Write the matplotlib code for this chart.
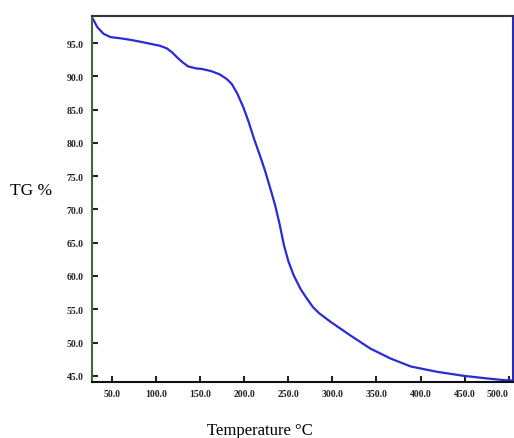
import matplotlib.pyplot as plt

# TGA curve
temp = [27, 29, 33, 40, 48, 60, 70, 82, 93, 104, 112, 118, 124, 130, 136, 145, 152,
        162, 172, 180, 186, 192, 199, 205, 211, 218, 224, 230, 235, 240, 245, 250,
        256, 264, 271, 278, 285, 298, 320, 343, 366, 389, 419, 449, 476, 495, 503]
tg = [98.9, 98.4, 97.4, 96.4, 95.9, 95.7, 95.5, 95.2, 94.9, 94.6, 94.2, 93.6, 92.8,
      92.1, 91.5, 91.2, 91.1, 90.8, 90.3, 89.6, 88.8, 87.4, 85.3, 83.1, 80.6, 78.0,
      75.6, 72.9, 70.6, 67.8, 64.6, 62.2, 60.1, 58.0, 56.6, 55.3, 54.4, 53.1, 51.1,
      49.1, 47.6, 46.4, 45.6, 45.0, 44.6, 44.35, 44.3]

xticks = [50, 100, 150, 200, 250, 300, 350, 400, 450, 500]
yticks = [45, 50, 55, 60, 65, 70, 75, 80, 85, 90, 95]

plt.rcParams['font.family'] = ['Liberation Serif', 'DejaVu Serif']

fig = plt.figure(figsize=(5.14, 4.39), dpi=100)
ax = fig.add_axes([0.179, 0.128, 0.819, 0.833])

ax.plot(temp, tg, color='#2b2bd6', linewidth=1.6)

ax.set_xlim(27, 505)
ax.set_ylim(44.1, 99.05)
ax.set_xticks(xticks)
ax.set_xticklabels(['%.1f' % t for t in xticks], fontweight='bold')
ax.set_yticks(yticks)
ax.set_yticklabels(['%.1f' % t for t in yticks], fontweight='bold')
ax.tick_params(direction='in', length=4, width=1.5, labelsize=7, color='#222222',
               labelcolor='#222222')
ax.tick_params(axis='y', pad=6)
ax.tick_params(axis='x', pad=5)
# keep the last label inside the figure
ax.get_xticklabels()[-1].set_horizontalalignment('right')

ax.spines['left'].set_color('#3a6b3a')
ax.spines['left'].set_linewidth(1.5)
ax.spines['bottom'].set_color('#111111')
ax.spines['bottom'].set_linewidth(1.5)
ax.spines['top'].set_color('#333333')
ax.spines['top'].set_linewidth(1.5)
ax.spines['right'].set_color('#2a2ab8')
ax.spines['right'].set_linewidth(1.5)

fig.text(0.02, 0.565, 'TG %', fontsize=12.5, ha='left', va='center')
fig.text(0.505, 0.018, 'Temperature °C', fontsize=12, ha='center', va='center')

fig.savefig('out.png', dpi=100)
